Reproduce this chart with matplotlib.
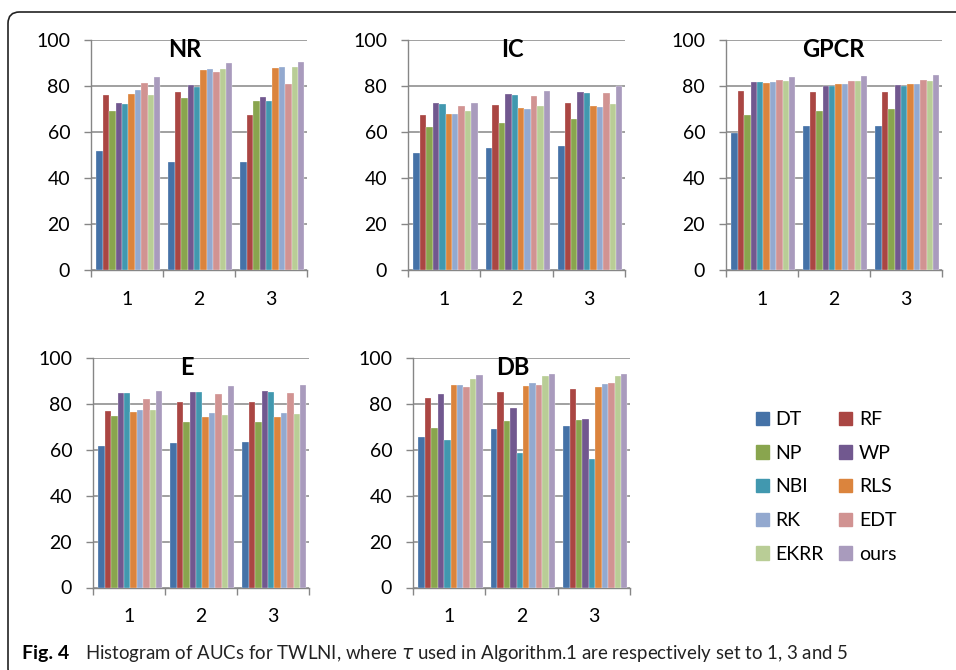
import matplotlib.pyplot as plt
from matplotlib.patches import Patch, FancyBboxPatch
import numpy as np

plt.rcParams['font.family'] = ['Lato', 'DejaVu Sans']

methods = ['DT', 'RF', 'NP', 'WP', 'NBI', 'RLS', 'RK', 'EDT', 'EKRR', 'ours']
colors = ['#4572A7', '#AA4643', '#89A54E', '#71588F', '#4198AF',
          '#DB843D', '#93A9CF', '#D19392', '#B9CD96', '#A99BBD']
groups = ['1', '2', '3']

# AUC values, one list per tau setting (1, 3, 5), methods in the order above
nr = [[51.6, 75.9, 69.3, 72.5, 72.1, 76.7, 78.2, 81.4, 76.0, 83.9],
      [46.9, 77.2, 74.6, 80.4, 79.4, 86.9, 87.6, 85.9, 87.2, 89.8],
      [46.9, 67.4, 73.5, 75.1, 73.4, 87.8, 88.2, 81.0, 88.4, 90.3]]
ic = [[51.0, 67.4, 62.2, 72.4, 72.1, 68.0, 68.0, 71.2, 69.3, 72.4],
      [53.1, 71.8, 64.0, 76.5, 76.0, 70.3, 70.2, 75.7, 71.2, 77.8],
      [54.1, 72.7, 65.8, 77.3, 77.0, 71.1, 70.8, 77.0, 72.2, 79.8]]
gpcr = [[59.7, 77.8, 67.4, 81.7, 81.7, 81.3, 81.8, 82.4, 82.3, 84.0],
        [62.4, 77.3, 69.2, 80.1, 80.1, 81.0, 80.7, 82.0, 82.0, 84.4],
        [62.5, 77.6, 70.1, 80.4, 80.2, 80.8, 80.7, 82.8, 82.1, 84.9]]
e = [[61.5, 76.7, 74.7, 84.9, 84.9, 76.6, 77.2, 82.0, 77.2, 85.8],
     [62.8, 80.7, 71.9, 85.2, 85.0, 74.1, 75.9, 84.3, 75.1, 87.9],
     [63.2, 81.0, 71.9, 85.5, 85.3, 74.1, 76.2, 84.6, 75.7, 88.1]]
db = [[65.7, 82.4, 69.6, 84.2, 64.4, 88.1, 88.2, 87.4, 91.0, 92.4],
      [69.2, 85.2, 72.5, 78.2, 58.7, 87.6, 89.0, 88.2, 92.2, 93.0],
      [70.2, 86.3, 72.8, 73.3, 55.8, 87.4, 88.7, 89.0, 92.3, 93.2]]

W, H = 956, 670
fig = plt.figure(figsize=(W / 100, H / 100), dpi=100)

# frame around figure + caption
frame = FancyBboxPatch((8 / W, -10 / H), 1.2, (H - 12 + 10) / H,
                       boxstyle='round,pad=0,rounding_size=0.012',
                       transform=fig.transFigure, fill=False,
                       edgecolor='#222222', linewidth=1.2, mutation_aspect=W / H)
fig.add_artist(frame)

# (data, title, left, right, top, bottom, title x in axes fraction)
panels = [
    (nr, 'NR', 91, 307, 40, 270, 0.435),
    (ic, 'IC', 408, 625, 40, 270, 0.48),
    (gpcr, 'GPCR', 726, 942, 40, 270, 0.495),
    (e, 'E', 93, 309, 358, 587.5, 0.435),
    (db, 'DB', 413, 630, 358, 587.5, 0.46),
]

grey = '#868686'
bw = 0.089
x = np.arange(1, 4)

for data, name, l, r, t, b, tx in panels:
    ax = fig.add_axes([l / W, 1 - b / H, (r - l) / W, (b - t) / H])
    vals = np.array(data)
    for k in range(len(methods)):
        ax.bar(x - 0.435 + bw * (k + 0.5) + 0.01, vals[:, k], width=bw,
               color=colors[k], edgecolor='white', linewidth=0.2, zorder=3)
    ax.set_xlim(0.5, 3.5)
    ax.set_ylim(0, 100)
    ax.set_yticks(range(0, 101, 20))
    ax.set_xticks([0.5, 1.5, 2.5, 3.5])
    ax.set_xticklabels([])
    ax.set_xticks(x, minor=True)
    ax.set_xticklabels(groups, minor=True)
    ax.grid(axis='y', color=grey, linewidth=1.1)
    ax.set_axisbelow(True)
    for s in ['top', 'right']:
        ax.spines[s].set_visible(False)
    for s in ['left', 'bottom']:
        ax.spines[s].set_color(grey)
        ax.spines[s].set_linewidth(1.0)
    ax.tick_params(axis='both', which='major', length=5, width=1.0, color=grey,
                   labelsize=14, labelcolor='black')
    ax.tick_params(axis='y', pad=10)
    ax.tick_params(axis='x', which='minor', length=0, pad=15, labelsize=14)
    ax.text(tx, 0.957, name, transform=ax.transAxes, ha='center', va='center',
            fontsize=17, fontweight='bold')

# legend, two columns (DT/RF, NP/WP, ...)
order = [0, 2, 4, 6, 8, 1, 3, 5, 7, 9]
handles = [Patch(color=colors[i], label=methods[i]) for i in order]
fig.legend(handles=handles, ncol=2, loc='upper left',
           bbox_to_anchor=(756 / W, 1 - 411 / H), frameon=False, fontsize=14,
           handlelength=0.67, handleheight=0.67, handletextpad=0.33,
           labelspacing=0.86, columnspacing=0.8, borderpad=0, borderaxespad=0)

fig.text(22 / W, 1 - 654 / H, 'Fig. 4', fontsize=14, fontweight='bold',
         va='center', ha='left')
cap = fig.text(85 / W, 1 - 654 / H,
               r'Histogram of AUCs for TWLNI, where $\tau$ used in Algorithm.1 are respectively set to 1, 3 and 5',
               fontsize=11, va='center', ha='left', color='#222222')
# fit caption to the width it has in the figure
fig.canvas.draw()
wpx = cap.get_window_extent().width
cap.set_fontsize(11 * (848 - 85) / wpx)

fig.savefig('out.png', dpi=100)
